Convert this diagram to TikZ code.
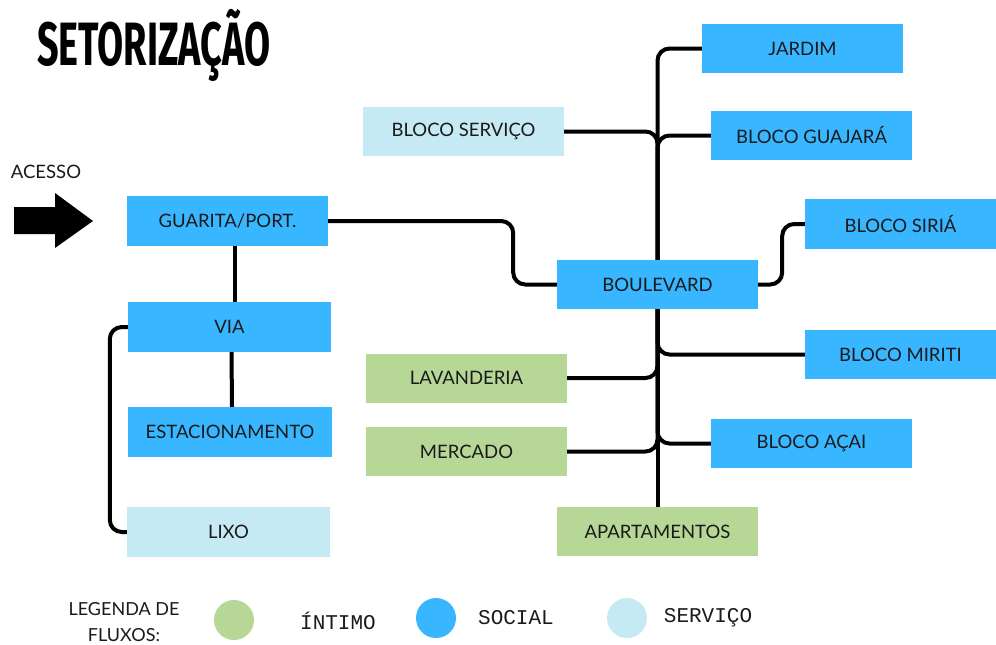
\documentclass[tikz,border=0pt]{standalone}
\usepackage{fontspec}
\setmainfont{Lato}
\newfontfamily\monof{Liberation Mono}
\newfontfamily\titlef{Fira Sans}
\usetikzlibrary{calc}
\definecolor{socialc}{HTML}{38B6FF}
\definecolor{intimoc}{HTML}{B6D796}
\definecolor{servc}{HTML}{C6EAF3}
\definecolor{txtc}{HTML}{1A1A1A}
\tikzset{
  box/.style={inner sep=0pt, minimum width=201pt, minimum height=49pt, text=txtc,
    font=\fontsize{18.5}{22}\selectfont},
  soc/.style={box, fill=socialc},
  inti/.style={box, fill=intimoc},
  serv/.style={box, fill=servc},
  link/.style={line width=4pt, black, rounded corners=12pt},
  legdot/.style={circle, inner sep=0pt, minimum size=40pt},
  legtxt/.style={font=\monof\fontsize{21}{24}\selectfont, text=txtc}
}
\begin{document}
\begin{tikzpicture}[x=1pt,y=-1pt]
\useasboundingbox (0,0) rectangle (996,645);
% title
\node[anchor=west, inner sep=0pt] (title) at (37,45)
  {\scalebox{0.63}[1.02]{\titlef\bfseries\fontsize{60}{66}\selectfont SETORIZAÇÃO}};
% access
\node[inner sep=0pt, font=\fontsize{18.5}{22}\selectfont, text=txtc] (acesso) at (46,172) {ACESSO};
\fill[black] (14,207) -- (55,207) -- (55,193) -- (93,221) -- (55,248) -- (55,234) -- (14,234) -- cycle;
% nodes
\node[soc] (jardim) at (802.5,48.5) {JARDIM};
\node[serv] (servico) at (463.5,131.5) {BLOCO SERVIÇO};
\node[soc] (guajara) at (811.5,135.5) {BLOCO GUAJARÁ};
\node[soc, minimum height=50pt] (guarita) at (227.5,221) {GUARITA/PORT.};
\node[soc, minimum width=191pt, minimum height=50pt] (siria) at (900.5,224) {BLOCO SIRIÁ};
\node[soc] (boul) at (657.5,284.5) {BOULEVARD};
\node[soc, minimum width=203pt, minimum height=50pt] (via) at (229.5,327) {VIA};
\node[soc, minimum width=191pt] (miriti) at (900.5,354.5) {BLOCO MIRITI};
\node[inti] (lav) at (466.5,378) {LAVANDERIA};
\node[soc, minimum width=204pt, minimum height=50pt] (estac) at (230,432) {ESTACIONAMENTO};
\node[inti] (merc) at (466.5,451.5) {MERCADO};
\node[soc] (acai) at (811.5,443.5) {BLOCO AÇAI};
\node[serv, minimum width=203pt, minimum height=50pt] (lixo) at (228.5,532) {LIXO};
\node[inti] (apart) at (657.5,531.5) {APARTAMENTOS};
% connectors
\draw[link] (jardim.west) -| (boul.north);
\draw[link] (servico.east) -| (boul.north);
\draw[link] (guajara.west) -| (boul.north);
\draw[link] (boul.south) -- (apart.north);
\draw[link] (miriti.west) -| (boul.south);
\draw[link] (lav.east) -| (boul.south);
\draw[link] (merc.east) -| (boul.south);
\draw[link] (acai.west) -| (boul.south);
\draw[link] (guarita.east) -- ++(185,0) |- (boul.west);
\draw[link] (boul.east) -- ++(24,0) |- (siria.west);
\draw[link] ([xshift=7pt]guarita.south) -- ([xshift=5pt]via.north);
\draw[link] ([xshift=2pt]via.south) -- ([xshift=2pt]estac.north);
\draw[link] (via.west) -- ++(-18,0) |- (lixo.west);
% legend
\node[align=center, inner sep=0pt, font=\fontsize{18}{26}\selectfont, text=txtc] (legtitle) at (124,622) {LEGENDA DE\\FLUXOS:};
\node[legdot, fill=intimoc] (dotint) at (234,620) {};
\node[legtxt] (txtint) at (338,621) {ÍNTIMO};
\node[legdot, fill=socialc] (dotsoc) at (436,618) {};
\node[legtxt] (txtsoc) at (516,618) {SOCIAL};
\node[legdot, fill=servc] (dotserv) at (627,618) {};
\node[legtxt] (txtserv) at (708,618) {SERVIÇO};
\end{tikzpicture}
\end{document}
